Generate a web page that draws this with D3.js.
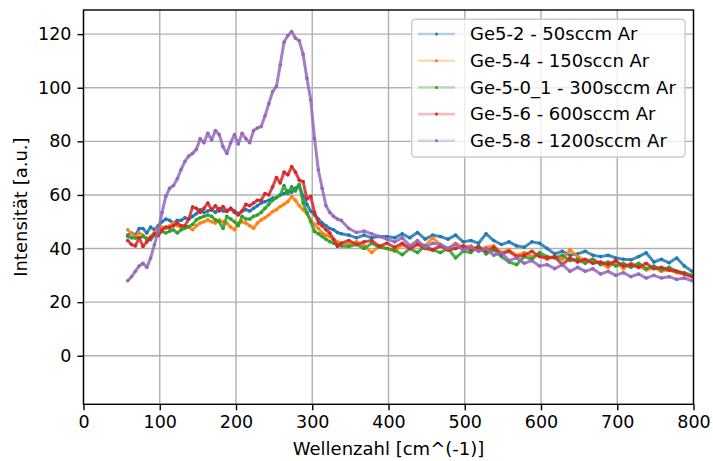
<!DOCTYPE html>
<html>
<head>
<meta charset="utf-8">
<script src="https://cdn.jsdelivr.net/npm/d3@7"></script>
<style>
	body { margin: 0; background: white; }
	svg { display: block; font-family: "DejaVu Sans", sans-serif; }
</style>
</head>
<body>
<svg width="713" height="461"></svg>
<script>
// Wellenzahl in cm^-1, shared by all spectra
const wellenzahl = [
	58,63,68,73,78,83,88,93,98,103,108,113,118,123,128,133,138,143,148,153,
	158,163,168,173,178,183,188,193,198,203,208,213,218,223,228,233,238,243,248,253,
	258,263,268,273,278,283,288,293,298,303,308,313,318,323,328,333,338,
	348,358,368,378,388,398,408,418,428,438,448,458,468,478,488,498,
	508,518,528,538,548,558,568,578,588,598,608,618,628,638,648,658,668,678,688,698,
	708,718,728,738,748,758,768,778,788,798
];

const ge5_2 = [
	45.0,45.8,45.0,47.5,47.5,45.8,48.0,47.0,48.5,50.0,51.0,50.5,49.5,50.5,50.5,51.5,51.0,52.0,53.0,54.5,
	53.5,54.0,54.5,53.5,55.0,54.0,53.8,55.0,54.0,53.0,54.0,54.5,54.0,55.0,56.0,57.0,57.5,58.0,58.8,59.0,
	60.0,60.5,61.5,61.0,62.5,63.5,59.5,56.5,54.0,52.5,51.0,49.5,48.5,47.5,47.0,46.0,45.5,
	45.0,44.0,45.0,44.0,44.5,44.5,44.0,45.5,44.0,46.0,43.5,45.0,44.5,43.5,45.0,42.5,
	43.0,42.0,45.5,43.0,41.5,42.5,41.0,40.5,42.5,42.0,40.0,38.0,39.0,37.5,38.0,39.0,37.5,37.0,37.5,36.5,
	36.0,35.8,37.0,38.4,35.0,36.0,34.7,36.5,33.5,31.5
];
const ge5_4 = [
	47.0,45.5,44.5,45.8,45.0,43.3,44.5,46.0,47.5,48.0,47.6,48.5,49.5,48.5,48.0,48.2,48.0,47.0,48.5,49.5,
	50.0,50.7,50.0,49.5,50.7,50.0,49.5,48.0,47.0,49.5,50.0,49.5,48.5,47.6,49.5,50.7,51.5,52.5,53.8,54.5,
	55.7,56.5,57.5,59.4,58.0,56.0,54.5,53.0,50.7,49.0,47.5,45.8,45.0,44.5,43.5,42.5,42.0,
	41.5,42.5,41.0,38.5,41.0,40.0,39.0,41.5,40.0,42.0,41.0,44.0,41.5,40.0,42.0,40.5,
	41.0,39.5,40.5,41.0,38.5,39.5,37.5,38.5,37.0,37.5,36.0,37.0,36.0,39.5,37.0,35.5,36.0,34.5,33.0,35.0,
	32.5,34.5,33.5,32.0,33.0,31.5,32.0,31.0,30.5,29.5
];
const ge5_0_1 = [
	44.5,44.0,43.9,44.0,44.5,43.8,43.3,45.0,45.8,46.4,45.8,46.5,47.0,45.8,47.0,47.6,48.2,49.0,50.7,51.5,
	52.0,52.5,52.0,50.7,50.0,47.5,52.0,51.0,50.0,48.5,52.0,51.0,51.0,52.0,52.5,53.5,55.0,56.5,58.0,59.0,
	60.0,63.5,60.5,63.0,61.5,64.0,57.0,53.5,50.0,46.4,45.5,44.5,43.5,42.6,42.0,41.4,41.0,
	40.8,41.5,40.0,42.0,40.5,40.0,39.5,37.7,40.0,38.5,41.0,39.5,38.5,40.0,36.5,39.0,
	38.5,41.0,38.0,39.5,37.0,35.0,34.0,37.0,36.0,38.5,37.0,36.5,37.5,35.5,36.0,34.5,36.0,34.0,35.0,33.5,
	34.5,33.0,34.5,32.5,33.5,32.0,33.0,31.5,31.0,30.0
];
const ge5_6 = [
	43.0,41.5,41.0,44.0,40.8,42.5,44.0,45.5,44.8,47.0,48.0,47.8,48.5,49.5,48.5,48.5,51.0,55.5,55.0,53.5,
	55.0,57.0,54.5,56.0,54.0,55.7,54.0,55.0,53.5,52.5,54.0,56.5,56.0,57.0,58.0,58.0,60.5,60.0,63.0,66.5,
	64.5,68.5,67.5,70.6,68.5,65.5,65.0,58.5,59.5,53.5,49.5,48.5,47.0,45.8,43.5,40.8,42.0,
	43.0,41.5,42.5,43.0,40.8,42.0,40.5,42.0,40.0,41.5,40.0,39.5,41.0,39.5,40.0,41.0,
	39.5,40.5,39.0,40.5,38.0,39.0,37.0,37.5,39.0,37.0,36.5,37.0,34.0,36.5,35.0,36.0,34.5,35.0,34.0,35.5,
	33.5,34.0,33.0,34.5,32.5,33.0,32.0,31.5,30.5,29.5
];
const ge5_8 = [
	28.0,29.5,31.5,33.5,34.5,33.0,36.5,41.5,46.5,53.5,59.5,62.5,63.5,66.0,69.5,72.5,74.5,75.5,77.0,81.0,
	79.5,83.0,80.5,84.0,82.5,78.0,75.5,79.5,82.5,79.0,83.0,81.0,79.5,84.0,85.0,85.5,89.5,94.0,98.5,100.5,
	108.5,117.0,119.5,121.0,118.5,117.5,112.5,103.5,95.5,81.0,69.3,62.5,56.0,53.5,52.0,51.0,50.5,
	47.5,46.0,46.5,45.5,44.5,43.5,42.5,44.0,41.0,43.0,40.5,42.0,41.5,40.0,41.5,39.5,
	40.5,39.0,40.0,37.5,38.5,35.5,36.5,34.5,35.5,33.5,34.0,32.5,34.0,31.5,33.0,31.5,32.5,30.5,31.5,30.0,
	31.0,29.5,30.5,29.0,30.0,29.0,29.5,28.5,29.0,28.0
];

const labels = [
	'Ge5-2 - 50sccm Ar',
	'Ge-5-4 - 150sccn Ar',
	'Ge-5-0_1 - 300sccm Ar',
	'Ge-5-6 - 600sccm Ar',
	'Ge-5-8 - 1200sccm Ar'
];
const xTicks = [0,100,200,300,400,500,600,700,800];
const yTicks = [0,20,40,60,80,100,120];

const colours = ['#1f77b4','#ff7f0e','#2ca02c','#d62728','#9467bd'];
const fontSize = 17.5;
const labelSize = 18;
const lw = 1.4;

let series = [ge5_2, ge5_4, ge5_0_1, ge5_6, ge5_8].map(function(values, i){
	return {
		name: labels[i],
		colour: colours[i],
		points: values.map(function(v, j){ return [wellenzahl[j], v]; })
	};
});

let svg = d3.select("svg");
// plot area in pixels
let pLeft = 83.5, pRight = 693.5, pTop = 10, pBottom = 404.3;

let x = d3.scaleLinear().domain([0, 800]).range([pLeft, pRight]);
let y = d3.scaleLinear().domain([-18.1, 129]).range([pBottom, pTop]);

// grid
let grid = svg.append("g").attr("class", "grid")
	.attr("stroke", "#b0b0b0").attr("stroke-width", lw);
grid.selectAll("line.gx").data(xTicks).enter().append("line")
	.attr("x1", d => x(d)).attr("x2", d => x(d))
	.attr("y1", pTop).attr("y2", pBottom);
grid.selectAll("line.gy").data(yTicks).enter().append("line")
	.attr("y1", d => y(d)).attr("y2", d => y(d))
	.attr("x1", pLeft).attr("x2", pRight);

svg.append("clipPath").attr("id", "plotclip")
	.append("rect")
	.attr("x", pLeft).attr("y", pTop)
	.attr("width", pRight - pLeft).attr("height", pBottom - pTop);

let line = d3.line()
	.x(function(d){ return x(d[0]); })
	.y(function(d){ return y(d[1]); });

let plot = svg.append("g").attr("clip-path", "url(#plotclip)");
let groups = plot.selectAll("g.series").data(series).enter().append("g").attr("class", "series");

// dense markers in the original make the traces look solid
groups.append("path")
	.attr("d", d => line(d.points))
	.attr("fill", "none")
	.attr("stroke", d => d.colour)
	.attr("stroke-width", 3)
	.attr("stroke-opacity", 0.85)
	.attr("stroke-linejoin", "round");

groups.selectAll("circle")
	.data(d => d.points.map(p => ({p: p, c: d.colour})))
	.enter().append("circle")
		.attr("cx", d => x(d.p[0]))
		.attr("cy", d => y(d.p[1]))
		.attr("r", 1.8)
		.attr("fill", d => d.c);

// axes
let xAxis = svg.append("g")
	.attr("transform", "translate(0," + pBottom + ")")
	.call(d3.axisBottom(x).tickValues(xTicks).tickSize(6).tickPadding(5.5));
let yAxis = svg.append("g")
	.attr("transform", "translate(" + pLeft + ",0)")
	.call(d3.axisLeft(y).tickValues(yTicks).tickSize(6).tickPadding(6));

[xAxis, yAxis].forEach(function(a){
	a.select(".domain").remove();
	a.selectAll(".tick line").attr("stroke", "black").attr("stroke-width", lw);
	a.selectAll(".tick text")
		.attr("font-family", "DejaVu Sans")
		.attr("font-size", fontSize)
		.attr("fill", "#000");
});

// spines
svg.append("rect")
	.attr("x", pLeft).attr("y", pTop)
	.attr("width", pRight - pLeft).attr("height", pBottom - pTop)
	.attr("fill", "none")
	.attr("stroke", "black")
	.attr("stroke-width", lw);

svg.append("text")
	.attr("x", (pLeft + pRight) / 2).attr("y", 455)
	.attr("text-anchor", "middle")
	.attr("font-size", labelSize)
	.text("Wellenzahl [cm^(-1)]");

svg.append("text")
	.attr("transform", "translate(27," + ((pTop + pBottom) / 2) + ") rotate(-90)")
	.attr("text-anchor", "middle")
	.attr("font-size", labelSize)
	.text("Intensität [a.u.]");

// legend
let legend = svg.append("g").attr("class", "legend");
legend.append("rect")
	.attr("x", 411.7).attr("y", 19.3)
	.attr("width", 273.3).attr("height", 137.7)
	.attr("rx", 3.5)
	.attr("fill", "white").attr("fill-opacity", 0.8)
	.attr("stroke", "#cccccc").attr("stroke-width", lw);

let rows = legend.selectAll("g.row").data(series).enter().append("g")
	.attr("class", "row")
	.attr("transform", (d, i) => "translate(0," + (34 + i * 26.7) + ")");
rows.append("line")
	.attr("x1", 418).attr("x2", 455)
	.attr("stroke", d => d.colour)
	.attr("stroke-width", 2.6)
	.attr("stroke-opacity", 0.3);
rows.append("circle")
	.attr("cx", 436.5).attr("r", 1.5)
	.attr("fill", d => d.colour);
rows.append("text")
	.attr("x", 470).attr("dy", "0.35em")
	.attr("font-size", labelSize)
	.text(d => d.name);
</script>
</body>
</html>
